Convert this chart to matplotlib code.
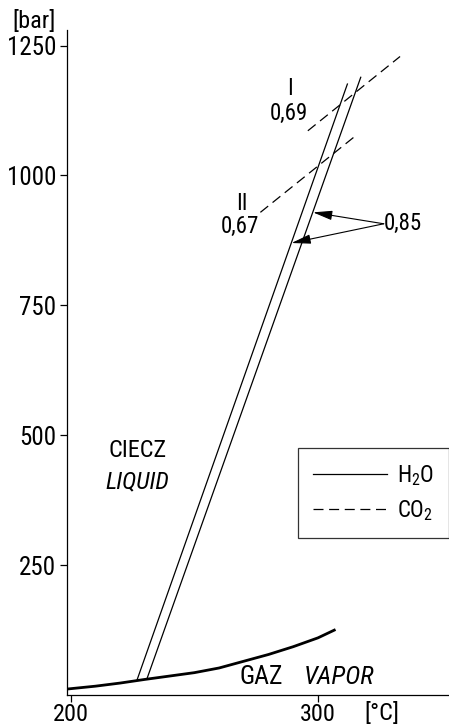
import matplotlib
matplotlib.use("Agg")
import matplotlib.pyplot as plt
from matplotlib.lines import Line2D
from matplotlib import font_manager

names = set(f.name for f in font_manager.fontManager.ttflist)
font = 'DejaVu Sans'
for cand in ['Liberation Sans Narrow', 'Roboto Condensed', 'Open Sans Condensed',
             'Noto Sans Condensed', 'DejaVu Sans Condensed', 'Liberation Sans']:
    if cand in names:
        font = cand
        break

plt.rcParams['font.family'] = [font, 'DejaVu Sans']
plt.rcParams['mathtext.fontset'] = 'custom'
plt.rcParams['mathtext.rm'] = font
plt.rcParams['mathtext.default'] = 'rm'

# vapour pressure curve of water (thick)
vap_t = [198.6, 210, 220, 230, 240, 250, 260, 270, 280, 290, 300, 307.1]
vap_p = [11.5, 17, 23, 30, 36.5, 43, 52, 65, 78, 93, 110, 126]

# the two solid H2O lines
h2o_a_t = [226.8, 311.9]
h2o_a_p = [28.8, 1176]
h2o_b_t = [230.8, 317.3]
h2o_b_p = [31.0, 1189]

# dashed CO2 lines I and II
co2_1_t = [295.9, 333.2]
co2_1_p = [1086, 1229]
co2_2_t = [276.7, 315.9]
co2_2_p = [929, 1079]

xticks = [200, 300]
yticks = [250, 500, 750, 1000, 1250]

W, H = 449, 728
fig = plt.figure(figsize=(W / 100, H / 100), dpi=100)
ax = fig.add_axes([67.3 / W, 33 / H, (W - 67.3) / W, 665 / H])

ax.plot(vap_t, vap_p, color='black', lw=2.0, solid_capstyle='butt')
ax.plot(h2o_a_t, h2o_a_p, color='black', lw=0.9)
ax.plot(h2o_b_t, h2o_b_p, color='black', lw=0.9)
ax.plot(co2_1_t, co2_1_p, color='black', lw=0.9, linestyle=(0, (8, 4.5)))
ax.plot(co2_2_t, co2_2_p, color='black', lw=0.9, linestyle=(0, (8, 4.5)))

ax.set_xlim(198.6, 353)
ax.set_ylim(0, 1280)
ax.set_xticks(xticks)
ax.set_yticks(yticks)
ax.spines['top'].set_visible(False)
ax.spines['right'].set_visible(False)
for s in ['left', 'bottom']:
    ax.spines[s].set_linewidth(0.9)
ax.tick_params(direction='out', length=5, width=0.9, labelsize=18, pad=3)
ax.tick_params(axis='x', labelsize=17.5, pad=1)

# labels on the lines
ax.text(288.5, 1167, 'I', fontsize=16.5, ha='center', va='center')
ax.text(288.1, 1119, '0,69', fontsize=16.5, ha='center', va='center')
ax.text(269.3, 946, 'II', fontsize=16.5, ha='center', va='center')
ax.text(268.6, 902, '0,67', fontsize=16.5, ha='center', va='center')
ax.text(326.6, 907, '0,85', fontsize=16.5, ha='left', va='center')
arrow = dict(arrowstyle='-|>,head_length=0.9,head_width=0.22', color='black',
             lw=0.8, shrinkA=0, shrinkB=0, mutation_scale=13)
ax.annotate('', xy=(298.0, 929), xytext=(326.6, 907), arrowprops=arrow)
ax.annotate('', xy=(289.3, 870), xytext=(326.6, 907), arrowprops=arrow)

ax.text(226.9, 471, 'CIECZ', fontsize=17.5, ha='center', va='center')
ax.text(226.9, 411, 'LIQUID', fontsize=17.5, ha='center', va='center', style='italic')
ax.text(277.1, 35, 'GAZ', fontsize=18.5, ha='center', va='center')
ax.text(308.5, 35, 'VAPOR', fontsize=18.5, ha='center', va='center', style='italic')

fig.text(34 / W, 1 - 22 / H, '[bar]', fontsize=17.5, ha='center', va='center')
fig.text(382 / W, 1 - 714 / H, '[°C]', fontsize=17.5, ha='center', va='center')

handles = [Line2D([], [], color='black', lw=0.9),
           Line2D([], [], color='black', lw=0.9, linestyle=(0, (8, 4.5)))]
leg = ax.legend(handles, ['H$_2$O', 'CO$_2$'], loc='upper left',
                bbox_to_anchor=(298 / W, 1 - 448 / H), bbox_transform=fig.transFigure,
                borderaxespad=0, fancybox=False, framealpha=1, edgecolor='#333333',
                fontsize=16.5, handlelength=3.25, handletextpad=0.4, labelspacing=0.45,
                borderpad=0.65)
leg.get_frame().set_linewidth(0.9)

fig.savefig('out.png', dpi=100)
